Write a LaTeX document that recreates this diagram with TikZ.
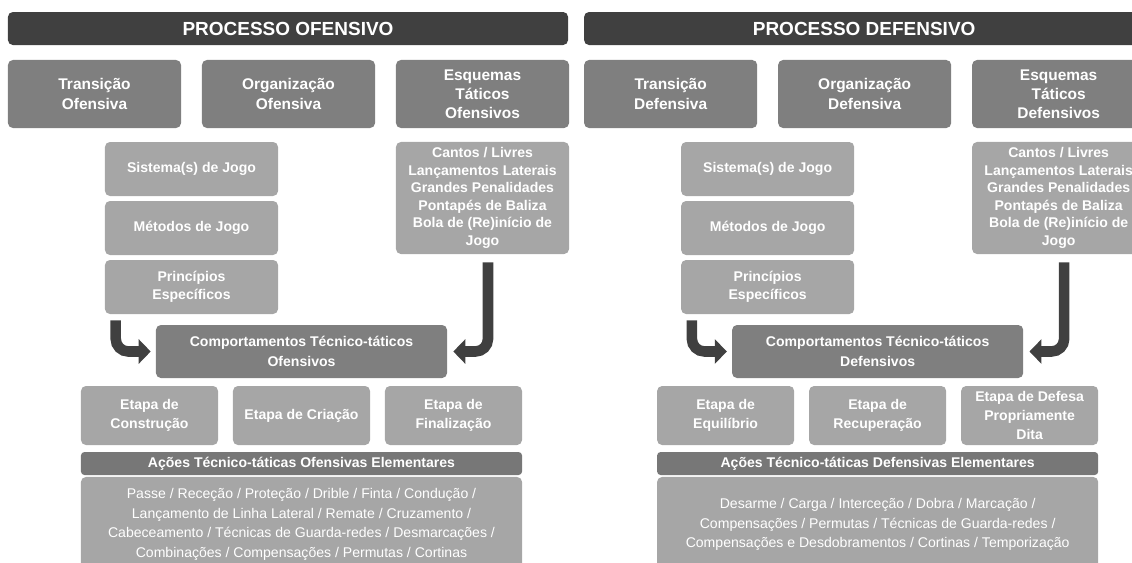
\documentclass[tikz,border=0pt]{standalone}
\usepackage{fontspec}
\setmainfont{Liberation Sans}
\usetikzlibrary{arrows.meta, positioning}

\definecolor{darkbar}{HTML}{404040}
\definecolor{midbox}{HTML}{7F7F7F}
\definecolor{lightbox}{HTML}{A6A6A6}
\definecolor{actionbar}{HTML}{777777}

\begin{document}
\begin{tikzpicture}[
    x=0.025cm, y=-0.025cm,
    base_box/.style={rectangle, rounded corners=3.5pt, text=white, align=center, inner sep=2pt},
    title_bar/.style={base_box, fill=darkbar, minimum width=14cm, minimum height=0.825cm, font=\bfseries\fontsize{13.5}{16}\selectfont},
    phase_box/.style={base_box, fill=midbox, minimum width=4.325cm, minimum height=1.7cm, font=\bfseries\fontsize{11}{13.6}\selectfont},
    level_box/.style={base_box, fill=lightbox, minimum width=4.325cm, minimum height=1.35cm, font=\bfseries\fontsize{10}{12.5}\selectfont},
    set_box/.style={level_box, minimum height=2.8cm},
    behav_box/.style={base_box, fill=midbox, minimum width=7.275cm, minimum height=1.325cm, font=\bfseries\fontsize{10}{14}\selectfont},
    stage_box/.style={base_box, fill=lightbox, minimum width=3.425cm, minimum height=1.475cm, font=\bfseries\fontsize{10}{13.8}\selectfont},
    action_bar/.style={base_box, fill=actionbar, rounded corners=2.5pt, minimum width=11.025cm, minimum height=0.575cm, font=\bfseries\fontsize{10}{12}\selectfont},
    list_box/.style={base_box, fill=lightbox, minimum width=11.025cm, minimum height=2.375cm, font=\fontsize{10}{14}\selectfont},
    flow_arrow/.style={draw=darkbar, line width=7.5pt, rounded corners=9pt, -{Triangle[width=17pt, length=8.5pt]}}
]

\useasboundingbox (0,0) rectangle (1132,562);
\clip (0,0) rectangle (1132,562);

% LEFT HALF - OFFENSIVE PROCESS
\begin{scope}[xshift=0cm]
    % Title
    \node[title_bar] (otitle) at (288,28.5) {PROCESSO OFENSIVO};

    % Phases
    \node[phase_box] (otrans) at (94.5,94) {Transição\\Ofensiva};
    \node[phase_box] (oorg) at (288.5,94) {Organização\\Ofensiva};
    \node[phase_box] (oesq) at (482.5,94) {Esquemas\\Táticos\\Ofensivos};

    % Organisation levels
    \node[level_box] (osist) at (191.5,169) {Sistema(s) de Jogo};
    \node[level_box] (ometo) at (191.5,228) {Métodos de Jogo};
    \node[level_box] (oprin) at (191.5,287) {Princípios\\Específicos};

    % Set pieces
    \node[set_box] (ocantos) at (482.5,198) {Cantos / Livres\\Lançamentos Laterais\\Grandes Penalidades\\Pontapés de Baliza\\Bola de (Re)início de\\Jogo};

    % Behaviours
    \node[behav_box] (ocomp) at (301.5,351.5) {Comportamentos Técnico-táticos\\Ofensivos};
    \draw[flow_arrow] ([xshift=0.275cm, yshift=-0.15cm]oprin.south west) |- ([xshift=-0.125cm]ocomp.west);
    \draw[flow_arrow] ([xshift=0.1375cm, yshift=-0.2cm]ocantos.south) |- ([xshift=0.15cm]ocomp.east);

    % Stages
    \node[stage_box] (oetapa1) at (149.5,415.5) {Etapa de\\Construção};
    \node[stage_box] (oetapa2) at (301.5,415.5) {Etapa de Criação};
    \node[stage_box] (oetapa3) at (453.5,415.5) {Etapa de\\Finalização};

    % Elementary actions
    \node[action_bar] (oacoes) at (301.5,463.5) {Ações Técnico-táticas Ofensivas Elementares};
    \node[list_box] (olista) at (301.5,524.5) {Passe / Receção / Proteção / Drible / Finta / Condução /\\Lançamento de Linha Lateral / Remate / Cruzamento /\\Cabeceamento / Técnicas de Guarda-redes / Desmarcações /\\Combinações / Compensações / Permutas / Cortinas};
\end{scope}

% RIGHT HALF - DEFENSIVE PROCESS
\begin{scope}[xshift=14.4cm]
    % Title
    \node[title_bar] (dtitle) at (288,28.5) {PROCESSO DEFENSIVO};

    % Phases
    \node[phase_box] (dtrans) at (94.5,94) {Transição\\Defensiva};
    \node[phase_box] (dorg) at (288.5,94) {Organização\\Defensiva};
    \node[phase_box] (desq) at (482.5,94) {Esquemas\\Táticos\\Defensivos};

    % Organisation levels
    \node[level_box] (dsist) at (191.5,169) {Sistema(s) de Jogo};
    \node[level_box] (dmeto) at (191.5,228) {Métodos de Jogo};
    \node[level_box] (dprin) at (191.5,287) {Princípios\\Específicos};

    % Set pieces
    \node[set_box] (dcantos) at (482.5,198) {Cantos / Livres\\Lançamentos Laterais\\Grandes Penalidades\\Pontapés de Baliza\\Bola de (Re)início de\\Jogo};

    % Behaviours
    \node[behav_box] (dcomp) at (301.5,351.5) {Comportamentos Técnico-táticos\\Defensivos};
    \draw[flow_arrow] ([xshift=0.275cm, yshift=-0.15cm]dprin.south west) |- ([xshift=-0.125cm]dcomp.west);
    \draw[flow_arrow] ([xshift=0.1375cm, yshift=-0.2cm]dcantos.south) |- ([xshift=0.15cm]dcomp.east);

    % Stages
    \node[stage_box] (detapa1) at (149.5,415.5) {Etapa de\\Equilíbrio};
    \node[stage_box] (detapa2) at (301.5,415.5) {Etapa de\\Recuperação};
    \node[stage_box] (detapa3) at (453.5,415.5) {Etapa de Defesa\\Propriamente\\Dita};

    % Elementary actions
    \node[action_bar] (dacoes) at (301.5,463.5) {Ações Técnico-táticas Defensivas Elementares};
    \node[list_box] (dlista) at (301.5,524.5) {Desarme / Carga / Interceção / Dobra / Marcação /\\Compensações / Permutas / Técnicas de Guarda-redes /\\Compensações e Desdobramentos / Cortinas / Temporização};
\end{scope}

\end{tikzpicture}
\end{document}
